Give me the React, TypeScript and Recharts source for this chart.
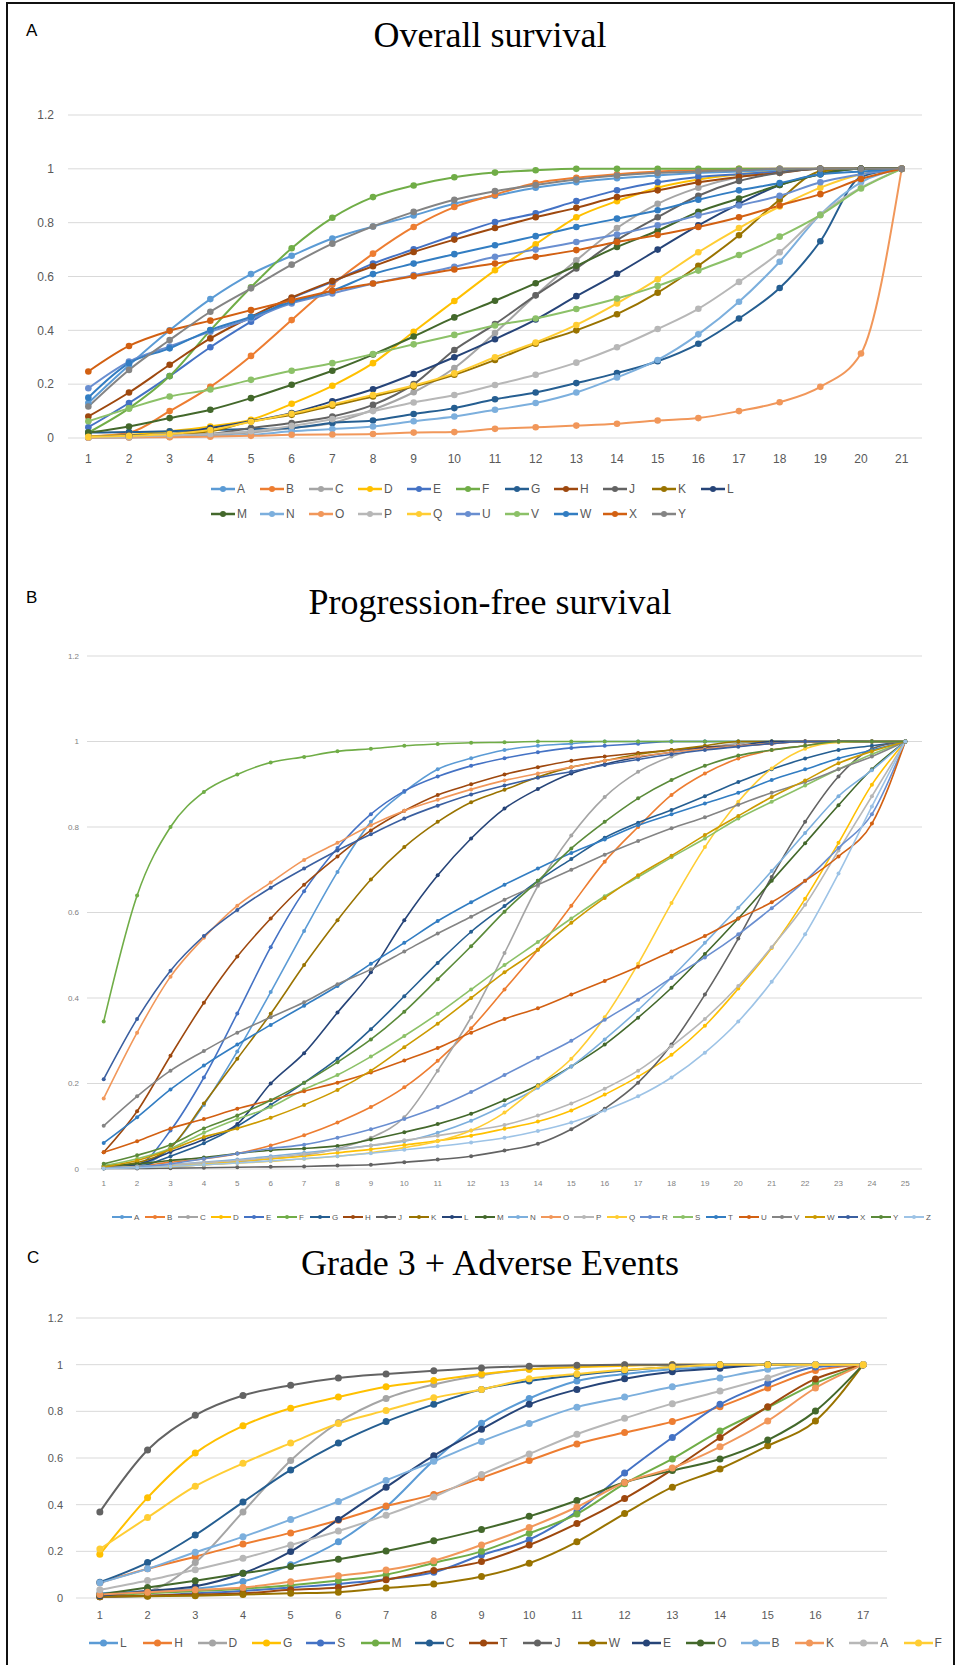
import { LineChart, Line, XAxis, YAxis, CartesianGrid } from "recharts";

// Office 2013 series colours, in legend order
const PALETTE = [
  "#5B9BD5", "#ED7D31", "#A5A5A5", "#FFC000", "#4472C4", "#70AD47",
  "#255E91", "#9E480E", "#636363", "#997300", "#264478", "#43682B",
  "#7CAFDD", "#F1975A", "#B7B7B7", "#FFCD33", "#698ED0", "#8CC168",
  "#327DC2", "#D26012", "#848484", "#CC9A00", "#3A5FA0", "#5A8A39", "#9DC3E6",
];

const yTicks = [0, 0.2, 0.4, 0.6, 0.8, 1, 1.2];

// ---- A: Overall survival ----
const osRanks = [1, 2, 3, 4, 5, 6, 7, 8, 9, 10, 11, 12, 13, 14, 15, 16, 17, 18, 19, 20, 21];
const osA = [0.13, 0.27, 0.4, 0.516, 0.609, 0.677, 0.741, 0.786, 0.827, 0.87, 0.9, 0.93, 0.95, 0.965, 0.975, 0.985, 0.99, 0.995, 1, 1, 1];
const osB = [0.006, 0.02, 0.1, 0.19, 0.305, 0.438, 0.57, 0.685, 0.784, 0.858, 0.904, 0.947, 0.967, 0.98, 0.99, 0.995, 1, 1, 1, 1, 1];
const osC = [0.002, 0.004, 0.006, 0.01, 0.02, 0.037, 0.056, 0.105, 0.17, 0.26, 0.39, 0.53, 0.66, 0.78, 0.87, 0.93, 0.97, 0.99, 1, 1, 1];
const osD = [0.006, 0.012, 0.025, 0.043, 0.068, 0.127, 0.194, 0.278, 0.395, 0.509, 0.623, 0.72, 0.82, 0.88, 0.93, 0.96, 0.98, 0.99, 1, 1, 1];
const osE = [0.04, 0.13, 0.23, 0.337, 0.432, 0.519, 0.58, 0.648, 0.701, 0.753, 0.802, 0.835, 0.88, 0.92, 0.95, 0.97, 0.98, 0.99, 1, 1, 1];
const osF = [0.02, 0.11, 0.23, 0.4, 0.56, 0.705, 0.818, 0.895, 0.938, 0.969, 0.986, 0.995, 1, 1, 1, 1, 1, 1, 1, 1, 1];
const osG = [0.02, 0.022, 0.025, 0.03, 0.033, 0.037, 0.056, 0.065, 0.089, 0.111, 0.144, 0.169, 0.204, 0.241, 0.285, 0.35, 0.444, 0.557, 0.731, 0.97, 1];
const osH = [0.08, 0.169, 0.272, 0.37, 0.45, 0.522, 0.583, 0.638, 0.691, 0.737, 0.78, 0.82, 0.855, 0.895, 0.92, 0.95, 0.97, 0.985, 1, 1, 1];
const osJ = [0.003, 0.006, 0.01, 0.015, 0.037, 0.056, 0.08, 0.123, 0.2, 0.327, 0.423, 0.53, 0.63, 0.735, 0.82, 0.9, 0.955, 0.985, 1, 1, 1];
const osK = [0.003, 0.006, 0.012, 0.025, 0.062, 0.086, 0.12, 0.154, 0.191, 0.235, 0.29, 0.35, 0.4, 0.46, 0.54, 0.64, 0.753, 0.885, 0.99, 1, 1];
const osL = [0.004, 0.01, 0.015, 0.037, 0.062, 0.093, 0.136, 0.181, 0.238, 0.3, 0.367, 0.44, 0.527, 0.61, 0.7, 0.79, 0.87, 0.94, 0.98, 1, 1];
const osM = [0.02, 0.043, 0.074, 0.105, 0.148, 0.198, 0.25, 0.31, 0.377, 0.448, 0.51, 0.575, 0.64, 0.71, 0.77, 0.84, 0.89, 0.94, 0.98, 1, 1];
const osN = [0.001, 0.002, 0.004, 0.008, 0.012, 0.025, 0.033, 0.043, 0.062, 0.08, 0.105, 0.13, 0.169, 0.225, 0.29, 0.385, 0.506, 0.655, 0.83, 0.95, 1];
const osO = [0.001, 0.002, 0.003, 0.005, 0.008, 0.012, 0.013, 0.015, 0.02, 0.022, 0.034, 0.04, 0.046, 0.053, 0.065, 0.074, 0.1, 0.133, 0.19, 0.314, 1];
const osP = [0.003, 0.005, 0.01, 0.015, 0.025, 0.045, 0.07, 0.1, 0.132, 0.16, 0.197, 0.235, 0.28, 0.337, 0.405, 0.48, 0.58, 0.69, 0.83, 0.93, 1];
const osQ = [0.004, 0.008, 0.015, 0.03, 0.06, 0.09, 0.125, 0.16, 0.195, 0.24, 0.3, 0.355, 0.42, 0.5, 0.59, 0.69, 0.78, 0.86, 0.93, 0.98, 1];
const osU = [0.185, 0.284, 0.34, 0.395, 0.444, 0.5, 0.537, 0.574, 0.605, 0.636, 0.673, 0.7, 0.728, 0.756, 0.79, 0.827, 0.864, 0.9, 0.95, 0.98, 1];
const osV = [0.062, 0.11, 0.154, 0.18, 0.216, 0.25, 0.278, 0.312, 0.348, 0.383, 0.418, 0.444, 0.479, 0.518, 0.565, 0.622, 0.68, 0.748, 0.828, 0.927, 1];
const osW = [0.15, 0.278, 0.333, 0.401, 0.45, 0.506, 0.547, 0.609, 0.648, 0.683, 0.716, 0.75, 0.784, 0.815, 0.846, 0.885, 0.92, 0.947, 0.98, 0.99, 1];
const osX = [0.247, 0.342, 0.398, 0.436, 0.475, 0.512, 0.547, 0.574, 0.601, 0.626, 0.648, 0.673, 0.698, 0.728, 0.754, 0.784, 0.82, 0.864, 0.906, 0.962, 1];
const osY = [0.117, 0.253, 0.364, 0.469, 0.556, 0.644, 0.722, 0.786, 0.84, 0.885, 0.917, 0.94, 0.96, 0.975, 0.985, 0.99, 0.995, 1, 1, 1, 1];

const osSeries: [string, number[]][] = [
  ["A", osA], ["B", osB], ["C", osC], ["D", osD], ["E", osE], ["F", osF], ["G", osG],
  ["H", osH], ["J", osJ], ["K", osK], ["L", osL], ["M", osM], ["N", osN], ["O", osO],
  ["P", osP], ["Q", osQ], ["U", osU], ["V", osV], ["W", osW], ["X", osX], ["Y", osY],
];

// ---- B: Progression-free survival ----
const pfsRanks = [1, 2, 3, 4, 5, 6, 7, 8, 9, 10, 11, 12, 13, 14, 15, 16, 17, 18, 19, 20, 21, 22, 23, 24, 25];
const pfsA = [0.005, 0.008, 0.05, 0.15, 0.275, 0.414, 0.557, 0.695, 0.812, 0.882, 0.935, 0.961, 0.98, 0.99, 0.995, 1, 1, 1, 1, 1, 1, 1, 1, 1, 1];
const pfsB = [0.002, 0.006, 0.016, 0.024, 0.036, 0.055, 0.079, 0.109, 0.145, 0.191, 0.253, 0.329, 0.42, 0.513, 0.616, 0.719, 0.8, 0.875, 0.925, 0.96, 0.98, 0.99, 1, 1, 1];
const pfsC = [0.002, 0.004, 0.006, 0.01, 0.016, 0.024, 0.032, 0.048, 0.073, 0.121, 0.23, 0.355, 0.505, 0.662, 0.78, 0.87, 0.929, 0.965, 0.985, 0.995, 1, 1, 1, 1, 1];
const pfsD = [0.002, 0.005, 0.008, 0.012, 0.018, 0.024, 0.03, 0.038, 0.046, 0.056, 0.066, 0.078, 0.094, 0.111, 0.137, 0.174, 0.216, 0.267, 0.335, 0.422, 0.517, 0.632, 0.763, 0.899, 1];
const pfsE = [0.005, 0.01, 0.09, 0.214, 0.364, 0.519, 0.65, 0.751, 0.83, 0.884, 0.918, 0.943, 0.961, 0.975, 0.985, 0.99, 0.995, 1, 1, 1, 1, 1, 1, 1, 1];
const pfsF = [0.345, 0.64, 0.8, 0.882, 0.923, 0.951, 0.964, 0.977, 0.983, 0.99, 0.994, 0.997, 0.998, 1, 1, 1, 1, 1, 1, 1, 1, 1, 1, 1, 1];
const pfsG = [0.002, 0.005, 0.03, 0.06, 0.1, 0.15, 0.202, 0.258, 0.327, 0.404, 0.482, 0.555, 0.615, 0.674, 0.725, 0.775, 0.81, 0.84, 0.872, 0.905, 0.935, 0.96, 0.98, 0.99, 1];
const pfsH = [0.039, 0.135, 0.265, 0.389, 0.497, 0.586, 0.665, 0.731, 0.792, 0.838, 0.875, 0.9, 0.923, 0.94, 0.955, 0.965, 0.973, 0.98, 0.987, 0.99, 0.995, 1, 1, 1, 1];
const pfsJ = [0.001, 0.001, 0.002, 0.003, 0.004, 0.005, 0.006, 0.008, 0.01, 0.016, 0.022, 0.03, 0.043, 0.059, 0.093, 0.141, 0.202, 0.291, 0.408, 0.539, 0.683, 0.812, 0.918, 0.983, 1];
const pfsK = [0.005, 0.015, 0.05, 0.153, 0.258, 0.363, 0.477, 0.582, 0.677, 0.753, 0.812, 0.858, 0.887, 0.917, 0.94, 0.955, 0.97, 0.98, 0.99, 1, 1, 1, 1, 1, 1];
const pfsL = [0.002, 0.01, 0.04, 0.069, 0.105, 0.2, 0.271, 0.366, 0.46, 0.582, 0.687, 0.773, 0.843, 0.889, 0.925, 0.947, 0.963, 0.975, 0.985, 0.99, 1, 1, 1, 1, 1];
const pfsM = [0.008, 0.012, 0.02, 0.027, 0.036, 0.044, 0.048, 0.054, 0.069, 0.086, 0.105, 0.129, 0.161, 0.196, 0.24, 0.291, 0.354, 0.424, 0.503, 0.586, 0.674, 0.762, 0.851, 0.935, 1];
const pfsN = [0.002, 0.005, 0.01, 0.016, 0.022, 0.03, 0.038, 0.046, 0.055, 0.065, 0.085, 0.113, 0.149, 0.19, 0.24, 0.303, 0.372, 0.448, 0.529, 0.611, 0.697, 0.786, 0.872, 0.933, 1];
const pfsO = [0.165, 0.319, 0.45, 0.541, 0.616, 0.67, 0.723, 0.763, 0.804, 0.838, 0.864, 0.888, 0.909, 0.925, 0.94, 0.955, 0.965, 0.975, 0.983, 0.99, 0.995, 1, 1, 1, 1];
const pfsP = [0.003, 0.006, 0.01, 0.015, 0.02, 0.027, 0.035, 0.045, 0.055, 0.067, 0.078, 0.09, 0.103, 0.125, 0.153, 0.188, 0.23, 0.287, 0.351, 0.428, 0.519, 0.618, 0.745, 0.872, 1];
const pfsQ = [0.002, 0.004, 0.006, 0.01, 0.014, 0.018, 0.024, 0.03, 0.038, 0.05, 0.065, 0.09, 0.132, 0.194, 0.258, 0.355, 0.48, 0.622, 0.753, 0.859, 0.937, 0.983, 0.998, 1, 1];
const pfsR = [0.002, 0.004, 0.012, 0.024, 0.036, 0.048, 0.057, 0.073, 0.093, 0.117, 0.145, 0.18, 0.22, 0.26, 0.3, 0.349, 0.396, 0.447, 0.495, 0.549, 0.61, 0.674, 0.751, 0.83, 1];
const pfsS = [0.008, 0.024, 0.048, 0.085, 0.117, 0.145, 0.186, 0.22, 0.263, 0.311, 0.363, 0.42, 0.477, 0.531, 0.586, 0.638, 0.683, 0.729, 0.773, 0.82, 0.859, 0.897, 0.935, 0.97, 1];
const pfsT = [0.061, 0.121, 0.186, 0.242, 0.291, 0.337, 0.382, 0.428, 0.48, 0.529, 0.58, 0.624, 0.665, 0.703, 0.739, 0.771, 0.804, 0.83, 0.855, 0.88, 0.91, 0.935, 0.96, 0.98, 1];
const pfsU = [0.039, 0.065, 0.095, 0.117, 0.141, 0.161, 0.182, 0.202, 0.226, 0.254, 0.283, 0.319, 0.351, 0.376, 0.408, 0.44, 0.473, 0.509, 0.545, 0.586, 0.624, 0.674, 0.731, 0.808, 1];
const pfsV = [0.101, 0.17, 0.23, 0.276, 0.319, 0.355, 0.39, 0.432, 0.467, 0.509, 0.551, 0.59, 0.63, 0.665, 0.7, 0.735, 0.767, 0.797, 0.823, 0.852, 0.88, 0.905, 0.935, 0.965, 1];
const pfsW = [0.005, 0.02, 0.045, 0.075, 0.095, 0.12, 0.15, 0.185, 0.23, 0.285, 0.34, 0.4, 0.46, 0.513, 0.576, 0.634, 0.687, 0.733, 0.781, 0.826, 0.87, 0.909, 0.949, 0.977, 1];
const pfsX = [0.21, 0.351, 0.464, 0.545, 0.606, 0.658, 0.703, 0.745, 0.783, 0.82, 0.85, 0.876, 0.897, 0.915, 0.93, 0.945, 0.958, 0.97, 0.98, 0.988, 0.995, 1, 1, 1, 1];
const pfsY = [0.012, 0.032, 0.057, 0.095, 0.125, 0.161, 0.202, 0.25, 0.303, 0.368, 0.444, 0.521, 0.602, 0.674, 0.75, 0.812, 0.867, 0.91, 0.943, 0.967, 0.98, 0.99, 1, 1, 1];
const pfsZ = [0.001, 0.003, 0.006, 0.01, 0.014, 0.019, 0.024, 0.03, 0.037, 0.045, 0.053, 0.062, 0.073, 0.089, 0.109, 0.137, 0.17, 0.214, 0.272, 0.345, 0.438, 0.549, 0.691, 0.848, 1];

const pfsSeries: [string, number[]][] = [
  ["A", pfsA], ["B", pfsB], ["C", pfsC], ["D", pfsD], ["E", pfsE], ["F", pfsF], ["G", pfsG],
  ["H", pfsH], ["J", pfsJ], ["K", pfsK], ["L", pfsL], ["M", pfsM], ["N", pfsN], ["O", pfsO],
  ["P", pfsP], ["Q", pfsQ], ["R", pfsR], ["S", pfsS], ["T", pfsT], ["U", pfsU], ["V", pfsV],
  ["W", pfsW], ["X", pfsX], ["Y", pfsY], ["Z", pfsZ],
];

// ---- C: Grade 3 + adverse events ----
const aeRanks = [1, 2, 3, 4, 5, 6, 7, 8, 9, 10, 11, 12, 13, 14, 15, 16, 17];
const aeL = [0.02, 0.03, 0.04, 0.071, 0.142, 0.241, 0.39, 0.589, 0.749, 0.855, 0.93, 0.96, 0.98, 0.99, 1, 1, 1];
const aeH = [0.065, 0.125, 0.177, 0.231, 0.279, 0.333, 0.394, 0.444, 0.515, 0.589, 0.66, 0.709, 0.756, 0.82, 0.9, 0.975, 1];
const aeD = [0.01, 0.03, 0.152, 0.369, 0.589, 0.752, 0.855, 0.915, 0.955, 0.98, 0.99, 1, 1, 1, 1, 1, 1];
const aeG = [0.187, 0.43, 0.621, 0.738, 0.813, 0.861, 0.905, 0.932, 0.96, 0.98, 0.99, 0.995, 1, 1, 1, 1, 1];
const aeS = [0.005, 0.01, 0.02, 0.03, 0.045, 0.06, 0.08, 0.11, 0.184, 0.25, 0.37, 0.536, 0.688, 0.83, 0.92, 0.99, 1];
const aeM = [0.01, 0.02, 0.03, 0.04, 0.055, 0.075, 0.1, 0.15, 0.2, 0.277, 0.36, 0.49, 0.596, 0.716, 0.816, 0.92, 1];
const aeC = [0.068, 0.152, 0.27, 0.411, 0.549, 0.664, 0.756, 0.83, 0.894, 0.93, 0.955, 0.975, 0.99, 1, 1, 1, 1];
const aeT = [0.005, 0.01, 0.015, 0.02, 0.035, 0.045, 0.078, 0.118, 0.156, 0.227, 0.319, 0.426, 0.55, 0.688, 0.82, 0.939, 1];
const aeJ = [0.369, 0.634, 0.783, 0.868, 0.912, 0.943, 0.96, 0.974, 0.986, 0.993, 0.997, 1, 1, 1, 1, 1, 1];
const aeW = [0.005, 0.008, 0.01, 0.015, 0.02, 0.025, 0.043, 0.06, 0.092, 0.149, 0.241, 0.362, 0.475, 0.553, 0.652, 0.759, 1];
const aeE = [0.01, 0.03, 0.05, 0.106, 0.199, 0.336, 0.475, 0.61, 0.723, 0.83, 0.894, 0.94, 0.97, 0.985, 1, 1, 1];
const aeO = [0.015, 0.045, 0.074, 0.106, 0.135, 0.166, 0.201, 0.245, 0.294, 0.35, 0.418, 0.496, 0.546, 0.596, 0.677, 0.801, 1];
const aeB = [0.065, 0.125, 0.196, 0.262, 0.336, 0.414, 0.504, 0.586, 0.671, 0.748, 0.818, 0.861, 0.905, 0.943, 0.98, 1, 1];
const aeK = [0.015, 0.025, 0.035, 0.045, 0.07, 0.095, 0.12, 0.16, 0.227, 0.302, 0.39, 0.495, 0.557, 0.648, 0.759, 0.9, 1];
const aeA = [0.035, 0.075, 0.121, 0.17, 0.227, 0.287, 0.355, 0.433, 0.529, 0.617, 0.702, 0.77, 0.833, 0.887, 0.943, 1, 1];
const aeF = [0.21, 0.345, 0.479, 0.577, 0.664, 0.748, 0.804, 0.858, 0.894, 0.94, 0.96, 0.978, 0.99, 1, 1, 1, 1];

const aeSeries: [string, number[]][] = [
  ["L", aeL], ["H", aeH], ["D", aeD], ["G", aeG], ["S", aeS], ["M", aeM], ["C", aeC], ["T", aeT],
  ["J", aeJ], ["W", aeW], ["E", aeE], ["O", aeO], ["B", aeB], ["K", aeK], ["A", aeA], ["F", aeF],
];

const AXIS_FONT = "'Liberation Sans Narrow', 'Liberation Sans', Arial, sans-serif";

type PanelProps = {
  series: [string, number[]][];
  ranks: number[];
  top: number;
  height: number;
  plotTop: number;
  plotBottom: number;
  plotLeft: number;
  plotRight: number;
  fontSize: number;
  tickColor: string;
  yGap: number;
  xGap: number;
  lineW: number;
  dotR: number;
};

function Panel(p: PanelProps) {
  const rows = p.ranks.map((rank, i) => {
    const row: Record<string, number> = { rank };
    p.series.forEach(([name, vals]) => {
      row[name] = vals[i];
    });
    return row;
  });
  // Excel puts each category in the middle of its slot
  const halfSlot = (p.plotRight - p.plotLeft) / p.ranks.length / 2;
  const tick = { fontSize: p.fontSize, fill: p.tickColor, fontFamily: AXIS_FONT };
  return (
    <div style={{ position: "absolute", left: 0, top: p.top }}>
      <LineChart
        width={961}
        height={p.height}
        data={rows}
        margin={{ top: p.plotTop - p.top, right: 961 - p.plotRight, bottom: 0, left: 0 }}
      >
        <CartesianGrid vertical={false} stroke="#D9D9D9" strokeWidth={1} />
        <XAxis
          dataKey="rank"
          height={p.top + p.height - p.plotBottom}
          padding={{ left: halfSlot, right: halfSlot }}
          axisLine={false}
          tickLine={false}
          tickSize={0}
          tickMargin={p.xGap}
          interval={0}
          tick={tick}
        />
        <YAxis
          width={p.plotLeft}
          domain={[0, 1.2]}
          ticks={yTicks}
          axisLine={false}
          tickLine={false}
          tickSize={0}
          tickMargin={p.yGap}
          tick={tick}
        />
        {p.series.map(([name], i) => (
          <Line
            key={name}
            dataKey={name}
            type="monotone"
            stroke={PALETTE[i]}
            strokeWidth={p.lineW}
            dot={{ r: p.dotR, fill: PALETTE[i], stroke: PALETTE[i], strokeWidth: 0 }}
            activeDot={false}
            isAnimationActive={false}
          />
        ))}
      </LineChart>
    </div>
  );
}

type LegendProps = {
  names: string[];
  offset: number;
  left: number;
  y: number;
  step: number;
  lineLen: number;
  r: number;
  lineW: number;
  fontSize: number;
};

function LegendRow(p: LegendProps) {
  return (
    <>
      {p.names.map((name, i) => (
        <div
          key={name}
          style={{
            position: "absolute",
            left: p.left + i * p.step,
            top: p.y - 8,
            height: 16,
            display: "flex",
            alignItems: "center",
            fontFamily: AXIS_FONT,
            fontSize: p.fontSize,
            color: "#595959",
            whiteSpace: "nowrap",
          }}
        >
          <svg width={p.lineLen} height={10} style={{ display: "block" }}>
            <line x1={0} y1={5} x2={p.lineLen} y2={5} stroke={PALETTE[p.offset + i]} strokeWidth={p.lineW} />
            <circle cx={p.lineLen / 2} cy={5} r={p.r} fill={PALETTE[p.offset + i]} />
          </svg>
          <span style={{ marginLeft: 2 }}>{name}</span>
        </div>
      ))}
    </>
  );
}

const titleStyle = {
  position: "absolute" as const,
  left: 0,
  width: 980,
  textAlign: "center" as const,
  fontFamily: "'Liberation Serif', 'Times New Roman', serif",
  fontSize: 36,
  lineHeight: "40px",
  color: "#000",
};

const letterStyle = {
  position: "absolute" as const,
  fontFamily: "'Liberation Sans', Arial, sans-serif",
  fontSize: 17,
  lineHeight: "20px",
  color: "#000",
};

export default function App() {
  const osNames = osSeries.map((s) => s[0]);
  const pfsNames = pfsSeries.map((s) => s[0]);
  const aeNames = aeSeries.map((s) => s[0]);
  return (
    <div
      style={{
        position: "absolute",
        left: 0,
        top: 0,
        width: 961,
        height: 1665,
        overflow: "hidden",
        background: "#fff",
      }}
    >
      <div
        style={{
          position: "absolute",
          left: 6,
          top: 2,
          width: 949,
          height: 1700,
          border: "2px solid #111",
          boxSizing: "border-box",
        }}
      />

      <div style={{ ...letterStyle, left: 26, top: 21 }}>A</div>
      <div style={{ ...titleStyle, top: 15 }}>Overall survival</div>
      <Panel
        series={osSeries}
        ranks={osRanks}
        top={0}
        height={480}
        plotTop={115}
        plotBottom={438}
        plotLeft={68}
        plotRight={922}
        fontSize={12}
        tickColor="#595959"
        yGap={14}
        xGap={16}
        lineW={2}
        dotR={3.3}
      />
      <LegendRow names={osNames.slice(0, 11)} offset={0} left={211} y={489} step={49} lineLen={24} r={3} lineW={2.5} fontSize={12} />
      <LegendRow names={osNames.slice(11)} offset={11} left={211} y={514} step={49} lineLen={24} r={3} lineW={2.5} fontSize={12} />

      <div style={{ ...letterStyle, left: 26, top: 588 }}>B</div>
      <div style={{ ...titleStyle, top: 582 }}>Progression-free survival</div>
      <Panel
        series={pfsSeries}
        ranks={pfsRanks}
        top={590}
        height={615}
        plotTop={656}
        plotBottom={1169}
        plotLeft={87}
        plotRight={922}
        fontSize={8}
        tickColor="#7F7F7F"
        yGap={8}
        xGap={11}
        lineW={1.6}
        dotR={2}
      />
      <LegendRow names={pfsNames} offset={0} left={112} y={1217} step={33} lineLen={20} r={2} lineW={2} fontSize={8} />

      <div style={{ ...letterStyle, left: 27, top: 1248 }}>C</div>
      <div style={{ ...titleStyle, top: 1243 }}>Grade 3 + Adverse Events</div>
      <Panel
        series={aeSeries}
        ranks={aeRanks}
        top={1240}
        height={395}
        plotTop={1318}
        plotBottom={1598}
        plotLeft={76}
        plotRight={887}
        fontSize={11}
        tickColor="#595959"
        yGap={13}
        xGap={13}
        lineW={2}
        dotR={3.5}
      />
      <LegendRow names={aeNames} offset={0} left={89} y={1643} step={54.3} lineLen={29} r={3.5} lineW={2.5} fontSize={12} />
    </div>
  );
}
